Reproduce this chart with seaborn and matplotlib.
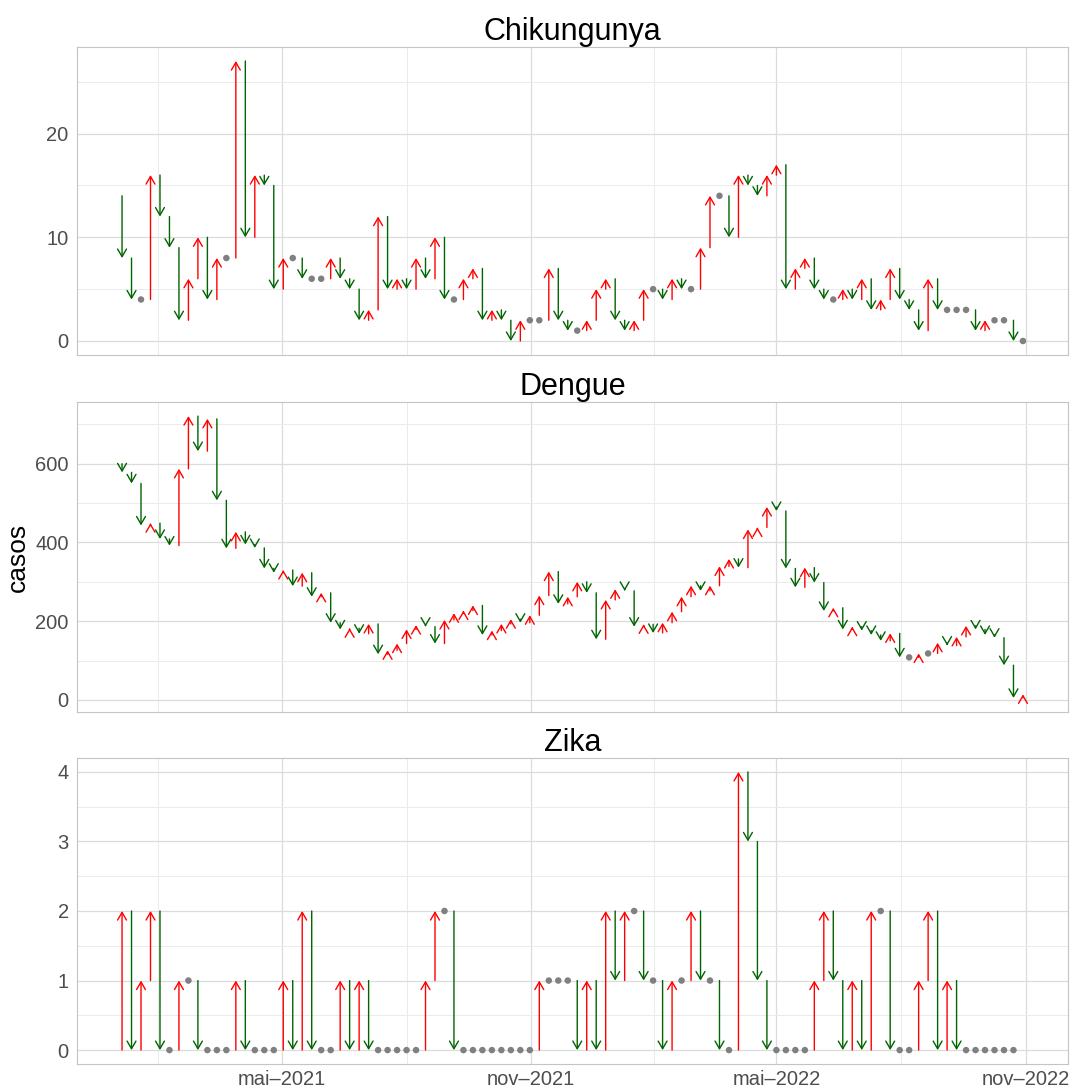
import matplotlib
matplotlib.use("Agg")
import matplotlib.dates as mdates
import matplotlib.pyplot as plt
import numpy as np
import pandas as pd
import seaborn as sns

# casos semanais (semana epidemiologica), valor anterior ao inicio da serie
inicio = "2021-01-03"
n_semanas = 96

chik_anterior = 14
chik = [8, 4, 4, 16, 12, 9, 2, 6, 10, 4,
        8, 8, 27, 10, 16, 15, 5, 8, 8, 6,
        6, 6, 8, 6, 5, 2, 3, 12, 5, 6,
        5, 8, 6, 10, 4, 4, 6, 7, 2, 3,
        2, 0, 2, 2, 2, 7, 2, 1, 1, 2,
        5, 6, 2, 1, 2, 5, 5, 4, 6, 5,
        5, 9, 14, 14, 10, 16, 15, 14, 16, 17,
        5, 7, 8, 5, 4, 4, 5, 4, 6, 3,
        4, 7, 4, 3, 1, 6, 3, 3, 3, 3,
        1, 2, 2, 2, 0, 0]

dengue_anterior = 600
dengue = [578, 550, 443, 449, 409, 392, 587, 721, 632, 714,
          507, 385, 427, 395, 386, 334, 323, 330, 289, 323,
          262, 272, 196, 179, 182, 168, 193, 116, 126, 143,
          179, 190, 186, 143, 203, 220, 227, 240, 165, 176,
          193, 205, 196, 215, 265, 326, 244, 262, 300, 272,
          154, 254, 281, 277, 186, 192, 170, 196, 224, 262,
          290, 277, 290, 339, 358, 336, 433, 438, 490, 480,
          334, 286, 336, 298, 226, 234, 179, 186, 176, 165,
          150, 169, 108, 108, 118, 118, 145, 138, 160, 188,
          179, 165, 158, 88, 5, 14]

zika_anterior = 0
zika = [2, 0, 1, 2, 0, 0, 1, 1, 0, 0,
        0, 0, 1, 0, 0, 0, 0, 1, 0, 2,
        0, 0, 0, 1, 0, 1, 0, 0, 0, 0,
        0, 0, 1, 2, 2, 0, 0, 0, 0, 0,
        0, 0, 0, 0, 1, 1, 1, 1, 0, 1,
        0, 2, 1, 2, 2, 1, 1, 0, 1, 1,
        2, 1, 1, 0, 0, 4, 3, 1, 0, 0,
        0, 0, 0, 1, 2, 1, 0, 1, 0, 2,
        2, 0, 0, 0, 1, 2, 0, 1, 0, 0,
        0, 0, 0, 0, 0]

doencas = ["Chikungunya", "Dengue", "Zika"]
y_ticks = {"Chikungunya": [0, 10, 20],
           "Dengue": [0, 200, 400, 600],
           "Zika": [0, 1, 2, 3, 4]}
y_minor = {"Chikungunya": [5, 15, 25],
           "Dengue": [100, 300, 500, 700],
           "Zika": [0.5, 1.5, 2.5, 3.5]}

x_tick_datas = ["2021-05-01", "2021-11-01", "2022-05-01", "2022-11-01"]
x_tick_labels = ["mai\u20132021", "nov\u20132021", "mai\u20132022", "nov\u20132022"]


def montar_tabela(nome, anterior, valores):
    semanas = pd.date_range(inicio, periods=n_semanas, freq="7D")
    cur = list(valores) + [np.nan] * (n_semanas - len(valores))
    prev = [anterior] + cur[:-1]
    return pd.DataFrame({"doenca": nome, "semana": semanas,
                         "anterior": prev, "casos": cur})


df = pd.concat([
    montar_tabela("Chikungunya", chik_anterior, chik),
    montar_tabela("Dengue", dengue_anterior, dengue),
    montar_tabela("Zika", zika_anterior, zika),
], ignore_index=True)
df["x"] = mdates.date2num(df["semana"])

sns.set_style("white")
plt.rcParams["font.family"] = ["Liberation Sans", "DejaVu Sans"]

fig = plt.figure(figsize=(10.7, 10.9), dpi=100)
left, width = 77 / 1070, (1068 - 77) / 1070
caixas = [(47, 355), (402, 712), (758, 1064)]

x0, x1 = df["x"].min(), df["x"].max()
xpad = 0.05 * (x1 - x0)
major_x = mdates.date2num(pd.to_datetime(x_tick_datas))
passo = np.diff(major_x).mean()
minor_x = np.concatenate([[major_x[0] - passo / 2], (major_x[:-1] + major_x[1:]) / 2])

for i, nome in enumerate(doencas):
    topo, base = caixas[i]
    ax = fig.add_axes([left, 1 - base / 1090, width, (base - topo) / 1090])
    sub = df[(df["doenca"] == nome) & df["casos"].notna()]

    # grade
    for v in minor_x:
        ax.axvline(v, color="#ebebeb", lw=0.7, zorder=0)
    for v in major_x:
        ax.axvline(v, color="#dcdcdc", lw=0.9, zorder=0)
    for v in y_minor[nome]:
        ax.axhline(v, color="#ebebeb", lw=0.7, zorder=0)
    for v in y_ticks[nome]:
        ax.axhline(v, color="#dcdcdc", lw=0.9, zorder=0)

    for _, r in sub.iterrows():
        if r["casos"] == r["anterior"]:
            continue
        cor = "red" if r["casos"] > r["anterior"] else "#006400"
        ax.annotate("", xy=(r["x"], r["casos"]), xytext=(r["x"], r["anterior"]),
                    arrowprops=dict(arrowstyle="->,head_length=0.55,head_width=0.32",
                                    color=cor, lw=1.0, shrinkA=0, shrinkB=0,
                                    mutation_scale=10),
                    zorder=3)

    iguais = sub[sub["casos"] == sub["anterior"]]
    sns.scatterplot(data=iguais, x="x", y="casos", color="#808080", s=22,
                    edgecolor="none", ax=ax, zorder=4, legend=False)

    vals = pd.concat([sub["casos"], sub["anterior"]])
    lo, hi = vals.min(), vals.max()
    ypad = 0.05 * (hi - lo)
    ax.set_ylim(lo - ypad, hi + ypad)
    ax.set_xlim(x0 - xpad, x1 + xpad)

    ax.set_yticks(y_ticks[nome])
    ax.set_yticklabels([str(v) for v in y_ticks[nome]])
    ax.set_xticks(major_x)
    if i == 2:
        ax.set_xticklabels(x_tick_labels)
        ax.tick_params(axis="x", length=3, width=0.8, color="#b3b3b3",
                       labelsize=14.5, labelcolor="#4d4d4d", pad=1)
    else:
        ax.set_xticklabels([])
        ax.tick_params(axis="x", length=0)
    ax.tick_params(axis="y", length=4, width=0.8, color="#b3b3b3",
                   labelsize=14.5, labelcolor="#4d4d4d", pad=2)
    ax.set_xlabel("")
    ax.set_ylabel("")
    for s in ax.spines.values():
        s.set_color("#c4c4c4")
        s.set_linewidth(0.8)
    ax.set_title(nome, fontsize=22, pad=5, color="black")

fig.text(0.017, 1 - 557 / 1090, "casos", rotation=90, fontsize=19,
         ha="center", va="center", color="black")

fig.savefig("out.png", dpi=100)
